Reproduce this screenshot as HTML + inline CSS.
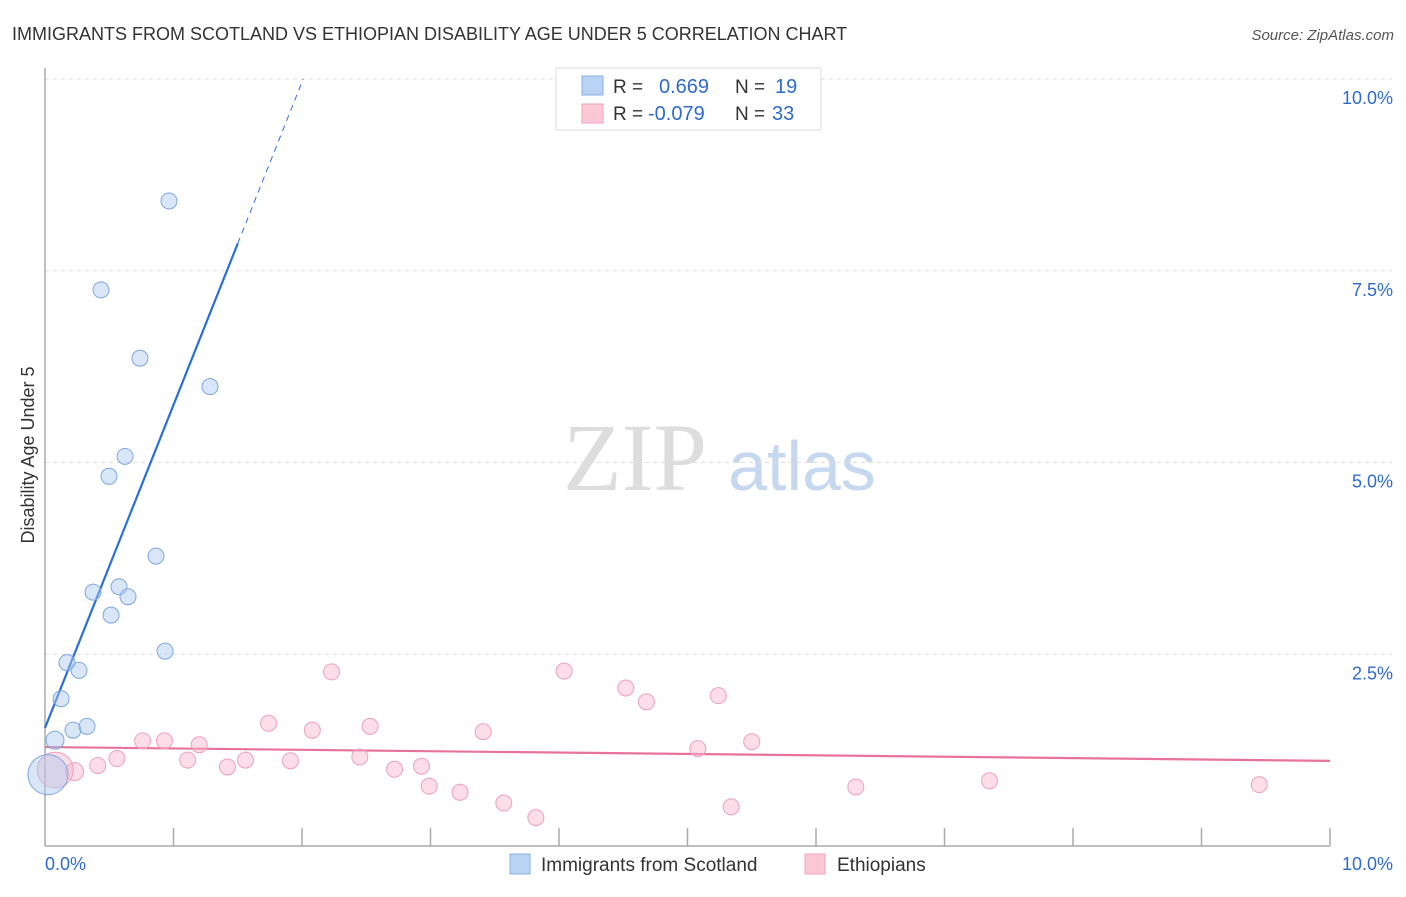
<!DOCTYPE html>
<html><head><meta charset="utf-8"><style>
body{margin:0;background:#fff;font-family:"Liberation Sans",sans-serif}
</style></head><body>
<svg width="1406" height="892" xmlns="http://www.w3.org/2000/svg" font-family="Liberation Sans, sans-serif">
<text x="12" y="40" font-size="18" fill="#333">IMMIGRANTS FROM SCOTLAND VS ETHIOPIAN DISABILITY AGE UNDER 5 CORRELATION CHART</text>
<text x="1394" y="40" font-size="15" fill="#555" font-style="italic" text-anchor="end">Source: ZipAtlas.com</text>
<g>
<text x="635" y="490" font-size="96" fill="#ddd" font-family="Liberation Serif, serif" text-anchor="middle">ZIP</text>
<text x="802" y="490" font-size="70" fill="#c5d8ef" text-anchor="middle">atlas</text>
</g>
<g id="grid"></g>
<g id="axes"></g>
<text transform="translate(34,455) rotate(-90)" font-size="18" fill="#333" text-anchor="middle">Disability Age Under 5</text>
<g id="trend"></g>
<g id="pts"></g>
<g>
<rect x="556" y="68" width="265" height="62" fill="#fff" stroke="#ddd"/>
<rect x="582" y="76" width="21" height="19" fill="#b9d3f5" stroke="#8ab0e6"/>
<rect x="582" y="104" width="21" height="19" fill="#fbc8d8" stroke="#f0a0bb"/>
<text x="613" y="93" font-size="19" fill="#333">R =</text><text x="659" y="93" font-size="20" fill="#2f6bcc">0.669</text>
<text x="735" y="93" font-size="19" fill="#333">N =</text><text x="775" y="93" font-size="20" fill="#2f6bcc">19</text>
<text x="613" y="120" font-size="19" fill="#333">R =</text><text x="648" y="120" font-size="20" fill="#2f6bcc">-0.079</text>
<text x="735" y="120" font-size="19" fill="#333">N =</text><text x="772" y="120" font-size="20" fill="#2f6bcc">33</text>
</g>
<g>
<rect x="510" y="854" width="20" height="20" fill="#b9d3f5" stroke="#8ab0e6"/>
<text x="541" y="871" font-size="19" fill="#333">Immigrants from Scotland</text>
<rect x="805" y="854" width="20" height="20" fill="#fbc8d8" stroke="#f0a0bb"/>
<text x="837" y="871" font-size="19" fill="#333">Ethiopians</text>
</g>
</svg>
<script>
const xTicks=[0,1,2,3,4,5,6,7,8,9,10];
const yTicks=[2.5,5,7.5,10];
const yTickLabels=["2.5%","5.0%","7.5%","10.0%"];
const blueX=[0.965,0.436,0.739,1.284,0.623,0.498,0.864,0.374,0.576,0.646,0.514,0.934,0.171,0.265,0.125,0.218,0.327,0.078,0.023];
const blueY=[8.41,7.25,6.36,5.99,5.08,4.82,3.78,3.31,3.38,3.25,3.01,2.54,2.39,2.29,1.92,1.51,1.56,1.38,0.93];
const blueR=[8,8,8,8,8,8,8,8,8,8,8,8,8,8,8,8,8,9,20];
const pinkX=[2.23,4.04,4.52,4.68,5.24,1.74,2.08,2.53,3.41,0.76,0.93,1.20,0.56,0.41,0.23,1.11,1.42,1.56,1.91,2.45,2.72,2.93,2.99,3.23,3.57,3.82,5.08,5.50,5.34,6.31,7.35,9.45,0.08];
const pinkY=[2.27,2.28,2.06,1.88,1.96,1.60,1.51,1.56,1.49,1.37,1.37,1.32,1.14,1.05,0.97,1.12,1.03,1.12,1.11,1.16,1.00,1.04,0.78,0.70,0.56,0.37,1.27,1.36,0.51,0.77,0.85,0.80,0.99];
const pinkR=[8,8,8,8,8,8,8,8,8,8,8,8,8,8,9,8,8,8,8,8,8,8,8,8,8,8,8,8,8,8,8,8,18];
const blueTrend=[1.54,4.21]; // intercept, slope
const pinkTrend=[1.29,-0.018];
const NS="http://www.w3.org/2000/svg";
const sx=v=>45+v*128.5, sy=v=>846-v*76.7;
function mk(t,a,p){const e=document.createElementNS(NS,t);for(const k in a)e.setAttribute(k,a[k]);p.appendChild(e);return e;}
const grid=document.getElementById('grid'),axes=document.getElementById('axes');
yTicks.forEach((t,i)=>{
 const l=mk('line',{x1:45,x2:1392,y1:sy(t),y2:sy(t),stroke:'#ddd','stroke-dasharray':'4,4'},grid);
 
 
 const tx=mk('text',{x:1393,y:sy(t)+25,'font-size':18,fill:'#2f6bcc','text-anchor':'end'},axes);
 tx.textContent=yTickLabels[i];
 
 
});
mk('line',{x1:45,x2:45,y1:68,y2:846,stroke:'#aaa','stroke-width':1.5},axes);
mk('line',{x1:45,x2:1330,y1:846,y2:846,stroke:'#aaa','stroke-width':1.5},axes);
xTicks.slice(1).forEach(t=>{
 const l=mk('line',{x1:sx(t),x2:sx(t),y1:828,y2:846,stroke:'#aaa','stroke-width':1.5},axes);
 
 
});
const x0=mk('text',{x:45,y:870,'font-size':18,fill:'#2f6bcc'},axes);x0.textContent='0.0%';


const x1=mk('text',{x:1393,y:870,'font-size':18,fill:'#2f6bcc','text-anchor':'end'},axes);x1.textContent='10.0%';


const pts=document.getElementById('pts'),trend=document.getElementById('trend');
pinkX.forEach((v,i)=>{
 const c=mk('circle',{cx:sx(v),cy:sy(pinkY[i]),r:pinkR[i],fill:'rgba(248,180,204,0.45)',stroke:'#eea0ba','stroke-width':1},pts);
 
 
});
blueX.forEach((v,i)=>{
 const c=mk('circle',{cx:sx(v),cy:sy(blueY[i]),r:blueR[i],fill:'rgba(170,200,240,0.45)',stroke:'#7ea8e0','stroke-width':1},pts);
 
 
});
const bx1=1.5,bx2=(10-blueTrend[0])/blueTrend[1];
const bl=mk('line',{x1:sx(0),y1:sy(blueTrend[0]),x2:sx(bx1),y2:sy(blueTrend[0]+blueTrend[1]*bx1),stroke:'#2a6fd6','stroke-width':2.2},trend);


const bd=mk('line',{x1:sx(bx1),y1:sy(blueTrend[0]+blueTrend[1]*bx1),x2:sx(bx2),y2:sy(10),stroke:'#2a6fd6','stroke-width':1,'stroke-dasharray':'6,5'},trend);


const pl=mk('line',{x1:sx(0),y1:sy(pinkTrend[0]),x2:sx(10),y2:sy(pinkTrend[0]+pinkTrend[1]*10),stroke:'#e8729a','stroke-width':2.2},trend);


</script>
</body></html>
